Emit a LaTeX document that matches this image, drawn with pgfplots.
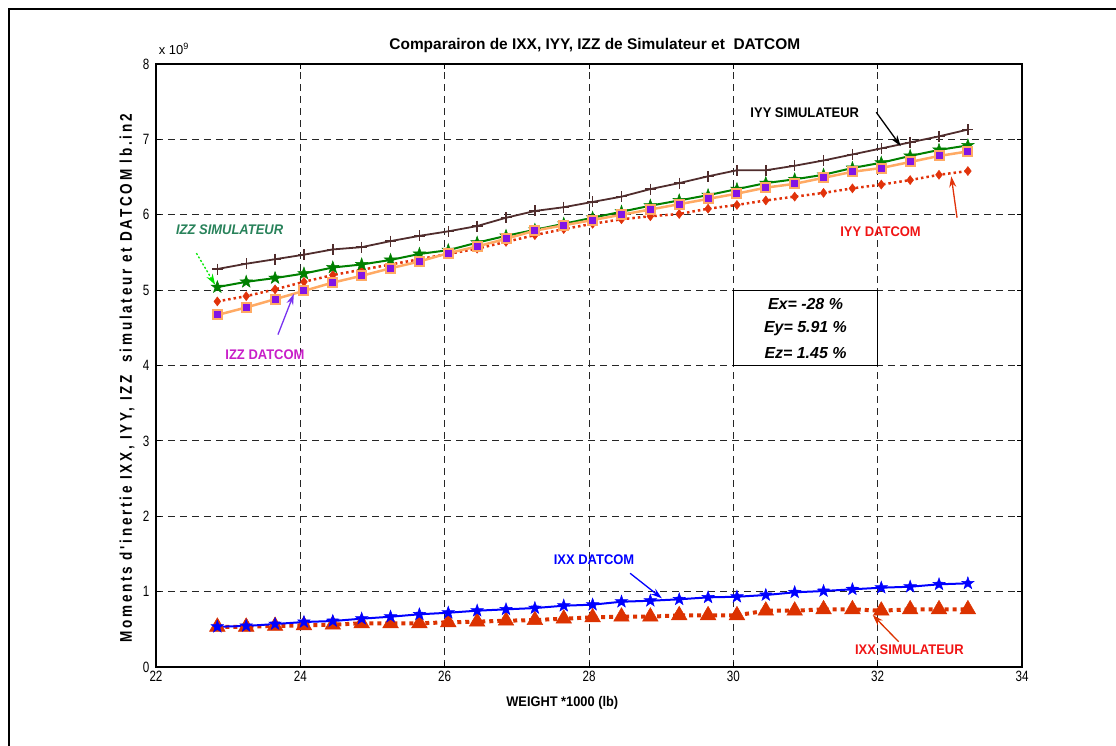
\documentclass[border=0pt]{standalone}
\usepackage{fontspec}
\setmainfont{Liberation Sans}
\newfontfamily\tickfont{Liberation Sans}[FakeStretch=0.78]
\newfontfamily\lblfont{Liberation Sans}[FakeStretch=0.92]
\newfontfamily\annfont{Liberation Sans}[FakeStretch=0.93]
\newfontfamily\ylblfont{Liberation Sans}[FakeStretch=0.8, LetterSpace=16]
\usepackage{pgfplots}
\usepackage{pgfplotstable}
\pgfplotsset{compat=1.18}
\usetikzlibrary{arrows.meta}

\definecolor{iyysim}{RGB}{80,45,45}
\definecolor{izzsim}{RGB}{0,128,0}
\definecolor{iyydat}{RGB}{225,50,10}
\definecolor{izzdatline}{RGB}{255,170,100}
\definecolor{izzdatfill}{RGB}{130,20,230}
\definecolor{ixxdat}{RGB}{0,0,255}
\definecolor{ixxsim}{RGB}{220,50,0}
\definecolor{txtgreen}{RGB}{40,130,90}
\definecolor{txtmag}{RGB}{200,30,200}
\definecolor{arrpurple}{RGB}{120,50,240}
\definecolor{txtred}{RGB}{240,20,20}
\definecolor{arrgreen}{RGB}{0,230,0}

\pgfdeclareplotmark{pentagram}{%
  \pgfpathmoveto{\pgfpointpolar{90}{\pgfplotmarksize}}%
  \pgfpathlineto{\pgfpointpolar{126}{0.4\pgfplotmarksize}}%
  \pgfpathlineto{\pgfpointpolar{162}{\pgfplotmarksize}}%
  \pgfpathlineto{\pgfpointpolar{198}{0.4\pgfplotmarksize}}%
  \pgfpathlineto{\pgfpointpolar{234}{\pgfplotmarksize}}%
  \pgfpathlineto{\pgfpointpolar{270}{0.4\pgfplotmarksize}}%
  \pgfpathlineto{\pgfpointpolar{306}{\pgfplotmarksize}}%
  \pgfpathlineto{\pgfpointpolar{342}{0.4\pgfplotmarksize}}%
  \pgfpathlineto{\pgfpointpolar{18}{\pgfplotmarksize}}%
  \pgfpathlineto{\pgfpointpolar{54}{0.4\pgfplotmarksize}}%
  \pgfpathclose
  \pgfusepathqfillstroke}

\pgfplotstableread{
x     iyysim izzsim iyydat izzdat ixxdat ixxsim
22.85 5.28 5.04 4.85 4.67 0.534 0.534
23.25 5.35 5.11 4.92 4.77 0.544 0.534
23.65 5.41 5.16 5.01 4.88 0.570 0.544
24.05 5.47 5.22 5.11 4.99 0.597 0.553
24.45 5.54 5.30 5.20 5.10 0.610 0.561
24.85 5.57 5.34 5.27 5.19 0.641 0.580
25.25 5.65 5.40 5.34 5.29 0.667 0.580
25.65 5.72 5.48 5.41 5.38 0.699 0.580
26.05 5.78 5.53 5.48 5.49 0.720 0.593
26.45 5.85 5.63 5.55 5.58 0.747 0.601
26.85 5.96 5.72 5.64 5.68 0.765 0.614
27.25 6.05 5.80 5.73 5.79 0.782 0.623
27.65 6.10 5.88 5.81 5.86 0.813 0.641
28.05 6.17 5.96 5.88 5.93 0.827 0.659
28.45 6.24 6.04 5.94 6.00 0.866 0.667
28.85 6.34 6.12 5.98 6.07 0.879 0.667
29.25 6.42 6.19 6.01 6.14 0.898 0.686
29.65 6.51 6.26 6.08 6.21 0.924 0.686
30.05 6.59 6.34 6.13 6.28 0.932 0.686
30.45 6.59 6.42 6.19 6.36 0.955 0.747
30.85 6.65 6.47 6.24 6.41 0.991 0.747
31.25 6.72 6.53 6.29 6.49 1.008 0.765
31.65 6.80 6.62 6.35 6.57 1.031 0.765
32.05 6.88 6.69 6.40 6.62 1.052 0.747
32.45 6.96 6.78 6.46 6.70 1.065 0.765
32.85 7.04 6.86 6.53 6.78 1.097 0.765
33.25 7.13 6.92 6.58 6.84 1.110 0.765
}\datatable

\begin{document}
\begin{tikzpicture}
\useasboundingbox (-156bp,-79bp) rectangle (960bp,667bp);
\draw[line width=2bp] (-147bp,-79bp) -- (-147bp,658bp) -- (960bp,658bp);
\begin{axis}[
  at={(0,0)}, anchor=south west,
  scale only axis, width=866bp, height=603bp,
  xmin=22, xmax=34, ymin=0, ymax=8,
  xtick={22,24,...,34}, ytick={0,1,...,8},
  grid=major,
  major grid style={black!85, dash pattern=on 7bp off 5bp, line width=0.9bp},
  axis line style={line width=1.4bp},
  tick style={black, line width=0.8bp},
  tick align=inside, major tick length=5bp,
  every tick label/.append style={font=\tickfont\fontsize{15}{17}\selectfont},
  yticklabel style={xshift=-3bp},
  xticklabel style={yshift=-1bp},
  /pgf/number format/assume math mode=true,
  clip=false,
]
% IXX simulateur
\addplot[color=ixxsim, line width=4bp, dash pattern=on 4bp off 4bp,
  mark=triangle*, mark size=9bp, mark options={solid, fill=ixxsim, line width=0.5bp}]
  table[x=x, y=ixxsim] {\datatable};
% IXX datcom
\addplot[color=ixxdat, line width=2bp,
  mark=pentagram, mark size=6.5bp, mark options={solid, fill=ixxdat, line width=0.5bp}]
  table[x=x, y=ixxdat] {\datatable};
% IYY datcom
\addplot[color=iyydat, line width=2.5bp, dash pattern=on 2.5bp off 3bp,
  mark=diamond*, mark size=4.5bp, mark options={solid, fill=iyydat, line width=0.5bp}]
  table[x=x, y=iyydat] {\datatable};
% IZZ simulateur
\addplot[color=izzsim, line width=2bp,
  mark=pentagram, mark size=6.5bp, mark options={solid, fill=izzsim, line width=0.5bp}]
  table[x=x, y=izzsim] {\datatable};
% IZZ datcom
\addplot[color=izzdatline, line width=2.5bp,
  mark=square*, mark size=4.5bp, mark options={solid, fill=izzdatfill, draw=izzdatline, line width=2bp}]
  table[x=x, y=izzdat] {\datatable};
% IYY simulateur
\addplot[color=iyysim, line width=1.8bp,
  mark=+, mark size=5.5bp, mark options={solid, line width=1.4bp}]
  table[x=x, y=iyysim] {\datatable};

% title and labels
\node[font=\bfseries\fontsize{15.5}{17}\selectfont] at (axis cs:28.08,8.25) {Comparairon de IXX, IYY, IZZ de Simulateur et\ \ DATCOM};
\node[anchor=west, font=\fontsize{13}{15}\selectfont] at (axis cs:21.99,8.2) {x 10$^{\mathrm{9}}$};
\node[font=\lblfont\bfseries\fontsize{14}{16}\selectfont] at (axis cs:27.63,-0.48) {WEIGHT *1000 (lb)};
\node[rotate=90, font=\ylblfont\bfseries\fontsize{17}{19}\selectfont] at (axis cs:21.60,3.83) {Moments d'inertie IXX, IYY, IZZ\ \ simulateur et DATCOM lb.in2};

% error box
\draw[line width=0.9bp] (axis cs:30,4) rectangle (axis cs:32,5);
\node[font=\bfseries\itshape\fontsize{16}{18}\selectfont] at (axis cs:31,4.81) {Ex= -28 \%};
\node[font=\bfseries\itshape\fontsize{16}{18}\selectfont] at (axis cs:31,4.49) {Ey= 5.91 \%};
\node[font=\bfseries\itshape\fontsize{16}{18}\selectfont] at (axis cs:31,4.16) {Ez= 1.45 \%};

% annotations
\node[font=\annfont\bfseries\fontsize{14}{16}\selectfont] at (axis cs:30.99,7.35) {IYY SIMULATEUR};
\draw[-{Stealth[length=11bp,width=7bp]}, line width=1.3bp] (axis cs:31.98,7.36) -- (axis cs:32.32,6.91);

\node[font=\annfont\bfseries\fontsize{14}{16}\selectfont, text=txtred] at (axis cs:32.04,5.78) {IYY DATCOM};
\draw[-{Stealth[length=11bp,width=7bp]}, line width=1.3bp, color=iyydat] (axis cs:33.10,5.96) -- (axis cs:33.02,6.51);

\node[font=\annfont\bfseries\itshape\fontsize{14}{16}\selectfont, text=txtgreen] at (axis cs:23.02,5.80) {IZZ SIMULATEUR};
\draw[-{Stealth[length=11bp,width=7bp]}, line width=1.3bp, color=arrgreen, dash pattern=on 2bp off 2bp] (axis cs:22.56,5.49) -- (axis cs:22.82,5.07);

\node[font=\annfont\bfseries\fontsize{14}{16}\selectfont, text=txtmag] at (axis cs:23.51,4.14) {IZZ DATCOM};
\draw[-{Stealth[length=11bp,width=7bp]}, line width=1.3bp, color=arrpurple] (axis cs:23.69,4.41) -- (axis cs:23.91,4.95);

\node[font=\annfont\bfseries\fontsize{14}{16}\selectfont, text=ixxdat] at (axis cs:28.07,1.42) {IXX DATCOM};
\draw[-{Stealth[length=11bp,width=7bp]}, line width=1.3bp, color=ixxdat] (axis cs:28.57,1.243) -- (axis cs:29.01,0.911);

\node[font=\annfont\bfseries\fontsize{14}{16}\selectfont, text=txtred] at (axis cs:32.44,0.226) {IXX SIMULATEUR};
\draw[-{Stealth[length=11bp,width=7bp]}, line width=1.3bp, color=ixxsim] (axis cs:32.29,0.336) -- (axis cs:31.93,0.69);
\end{axis}
\end{tikzpicture}
\end{document}
